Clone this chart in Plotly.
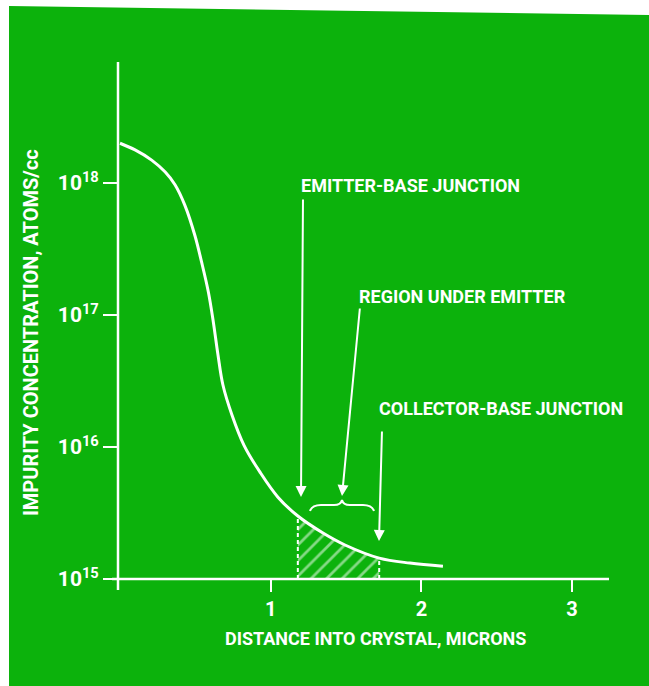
import plotly.graph_objects as go

# ---- data ----
distance_um = [0.0, 0.10, 0.21, 0.30, 0.365, 0.43, 0.497, 0.542, 0.586, 0.619,
               0.65, 0.683, 0.743, 0.823, 0.929, 1.048, 1.18, 1.347, 1.493, 1.72,
               1.924, 2.143]
concentration = [2.0e18, 1.78e18, 1.49e18, 1.21e18, 9.7e17, 6.8e17, 4.0e17, 2.5e17,
                 1.5e17, 8.9e16, 5.0e16, 2.95e16, 1.75e16, 1.03e16, 6.45e15, 4.17e15,
                 3.0e15, 2.23e15, 1.81e15, 1.44e15, 1.32e15, 1.25e15]
hatch_start = 1.18   # emitter-base junction
hatch_end = 1.72     # collector-base junction
base_level = 1e15

x_tickvals = [1, 2, 3]
x_ticktext = ["1", "2", "3"]
y_tickvals = [1e15, 1e16, 1e17, 1e18]
y_ticktext = ["10<sup>15</sup>", "10<sup>16</sup>", "10<sup>17</sup>", "10<sup>18</sup>"]

x_title = "DISTANCE INTO CRYSTAL, MICRONS"
y_title = "IMPURITY CONCENTRATION, ATOMS/cc"
labels = ["EMITTER-BASE JUNCTION", "REGION UNDER EMITTER", "COLLECTOR-BASE JUNCTION"]

# ---- style / layout (page pixels of the 649x686 window) ----
GREEN = "#0cb20c"
WHITE = "white"
FONT = "Roboto, Liberation Sans, sans-serif"
W, H = 649, 686
PLOT_L, PLOT_R, PLOT_T, PLOT_B = 119, 620, 55, 579     # page pixels of the plot area
L, R, T, B = PLOT_L, W - PLOT_R, PLOT_T, H - PLOT_B
PW, PH = PLOT_R - PLOT_L, PLOT_B - PLOT_T
X_PX_PER_UNIT = 150.7
Y_PX_PER_DECADE = 132.0


def px(xp, yp):
    """page pixel position -> paper coordinates"""
    return (xp - PLOT_L) / PW, (PLOT_B - yp) / PH


fig = go.Figure()

# hatched region under the curve between the junctions
idx = [i for i, x in enumerate(distance_um) if hatch_start <= x <= hatch_end]
hx = [distance_um[i] for i in idx] + [hatch_end, hatch_start, hatch_start]
hy = [concentration[i] for i in idx] + [base_level, base_level, concentration[idx[0]]]
fig.add_trace(go.Scatter(
    x=hx, y=hy, mode="lines", fill="toself", line=dict(width=0),
    fillcolor="rgba(0,0,0,0)",
    fillpattern=dict(shape="/", fgcolor=WHITE, bgcolor="rgba(0,0,0,0)",
                     size=11, solidity=0.25),
    hoverinfo="skip", showlegend=False))

# dashed edges of the hatched region
for i in (idx[0], idx[-1]):
    fig.add_trace(go.Scatter(
        x=[distance_um[i], distance_um[i]], y=[base_level, concentration[i]],
        mode="lines", line=dict(color=WHITE, width=2, dash="4px,3px"),
        hoverinfo="skip", showlegend=False))

# impurity profile
fig.add_trace(go.Scatter(
    x=distance_um, y=concentration, mode="lines",
    line=dict(color=WHITE, width=3, shape="spline", smoothing=1.0),
    showlegend=False))

shapes = []
# green card with white scan border
c = [px(9, 6), px(649, 15), px(660, 15), px(660, 700), px(9, 700)]
shapes.append(dict(type="path", xref="paper", yref="paper", layer="below",
                   path="M " + " L ".join(f"{a},{b}" for a, b in c) + " Z",
                   fillcolor=GREEN, line=dict(width=0)))
# axis lines
a0, a1 = px(118, 590), px(118, 62)
shapes.append(dict(type="line", xref="paper", yref="paper", x0=a0[0], y0=a0[1],
                   x1=a1[0], y1=a1[1], line=dict(color=WHITE, width=2.5)))
b0, b1 = px(112, 579), px(609, 579)
shapes.append(dict(type="line", xref="paper", yref="paper", x0=b0[0], y0=b0[1],
                   x1=b1[0], y1=b1[1], line=dict(color=WHITE, width=2.5)))
# brace above the region under emitter
pts = [(310, 511), (312, 505), (321, 505), (334, 505), (341, 505), (342, 500),
       (343, 505), (350, 505), (363, 505), (372, 505), (374, 511)]
pp = [px(*p) for p in pts]
path = (f"M {pp[0][0]},{pp[0][1]} Q {pp[1][0]},{pp[1][1]} {pp[2][0]},{pp[2][1]} "
        f"L {pp[3][0]},{pp[3][1]} Q {pp[4][0]},{pp[4][1]} {pp[5][0]},{pp[5][1]} "
        f"Q {pp[6][0]},{pp[6][1]} {pp[7][0]},{pp[7][1]} L {pp[8][0]},{pp[8][1]} "
        f"Q {pp[9][0]},{pp[9][1]} {pp[10][0]},{pp[10][1]}")
shapes.append(dict(type="path", xref="paper", yref="paper", path=path,
                   line=dict(color=WHITE, width=2)))

annotations = []
# label texts
for text, (lx, ly) in zip(labels, [(299, 185), (357, 296), (377, 408)]):
    p = px(lx, ly)
    annotations.append(dict(x=p[0], y=p[1], xref="paper", yref="paper", text=text,
                            showarrow=False, xanchor="left", yanchor="middle",
                            font=dict(family=FONT, size=18, color=WHITE, weight="bold")))
# arrows (head, tail)
for (hxp, hyp), (txp, typ) in [((301, 497), (303, 198)), ((342, 496), (360, 307)),
                               ((379, 541), (382, 430))]:
    p = px(hxp, hyp)
    annotations.append(dict(x=p[0], y=p[1], xref="paper", yref="paper", text="",
                            showarrow=True, arrowhead=2, arrowsize=1.1, arrowwidth=2,
                            arrowcolor=WHITE, ax=txp - hxp, ay=typ - hyp, standoff=0))
# axis titles
p = px(375, 638)
annotations.append(dict(x=p[0], y=p[1], xref="paper", yref="paper", text=x_title,
                        showarrow=False, xanchor="center", yanchor="middle",
                        font=dict(family=FONT, size=18, color=WHITE, weight="bold")))
p = px(31, 333)
annotations.append(dict(x=p[0], y=p[1], xref="paper", yref="paper", text=y_title,
                        showarrow=False, textangle=-90, xanchor="center", yanchor="middle",
                        font=dict(family=FONT, size=20, color=WHITE, weight="bold")))

x0_px = 120.0   # page pixel of distance 0
fig.update_layout(
    width=W, height=H, margin=dict(l=L, r=R, t=T, b=B),
    paper_bgcolor=WHITE, plot_bgcolor="rgba(0,0,0,0)",
    shapes=shapes, annotations=annotations, showlegend=False,
    xaxis=dict(range=[(PLOT_L - x0_px) / X_PX_PER_UNIT, (PLOT_R - x0_px) / X_PX_PER_UNIT],
               showgrid=False, zeroline=False,
               showline=False, tickvals=x_tickvals, ticktext=x_ticktext,
               ticks="outside", ticklen=12, tickwidth=2, tickcolor=WHITE,
               tickfont=dict(family=FONT, size=20, color=WHITE, weight="bold")),
    yaxis=dict(type="log", range=[15, 15 + PH / Y_PX_PER_DECADE], showgrid=False,
               zeroline=False, showline=False, tickvals=y_tickvals, ticktext=y_ticktext,
               ticks="outside", ticklen=15, tickwidth=2, tickcolor=WHITE,
               tickfont=dict(family=FONT, size=21, color=WHITE, weight="bold")),
)

fig.write_html("out.html", config={"displayModeBar": False},
               post_script="document.body.style.margin='0';"
                           "document.documentElement.style.overflow='hidden';")
